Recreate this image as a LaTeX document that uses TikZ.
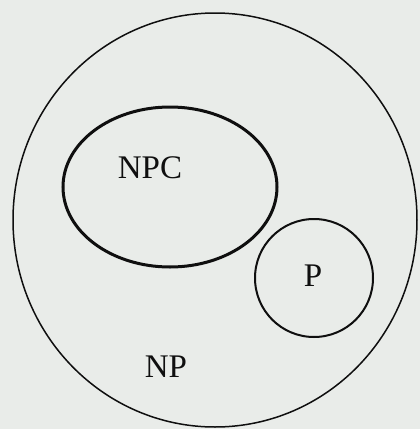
\documentclass[tikz,border=0pt]{standalone}
\usepackage{fontspec}
\setmainfont{Liberation Serif}
\definecolor{paper}{RGB}{233,236,233}
\definecolor{ink}{RGB}{15,15,15}
\begin{document}
\begin{tikzpicture}[x=1pt,y=-1pt,
  lbl/.style={font=\fontsize{33}{36}\selectfont, text=ink, inner sep=0pt}]
\fill[paper] (0,0) rectangle (420,429);
\useasboundingbox (0,0) rectangle (420,429);
\draw[ink, line width=1.5pt] (215,220) ellipse [x radius=202, y radius=207];
\draw[ink, line width=3pt] (170,187) ellipse [x radius=107, y radius=80];
\draw[ink, line width=2pt] (314,278) circle [radius=59];
\node[lbl] (npc) at (150,168) {NPC};
\node[lbl] (p) at (313,276) {P};
\node[lbl] (np) at (166,367) {NP};
\end{tikzpicture}
\end{document}
